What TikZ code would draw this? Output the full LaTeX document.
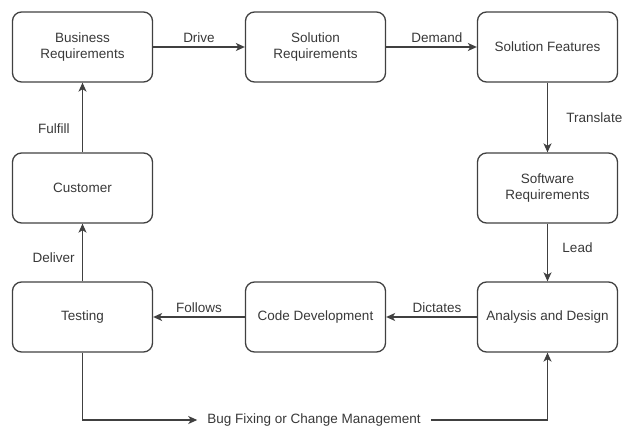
\documentclass[tikz,border=0pt]{standalone}
\usepackage{fontspec}
\setmainfont{Liberation Sans}
\usetikzlibrary{arrows.meta}

\begin{document}
\begin{tikzpicture}[x=1pt, y=-1pt,
  every node/.style={font=\fontsize{13.5}{16.5}\selectfont, text=black!78},
  box/.style={draw=black!75, line width=1.3pt, rounded corners=9pt,
    minimum width=140pt, minimum height=70pt, align=center, inner sep=2pt},
  arr/.style={draw=black!75, line width=1.3pt,
    -{Stealth[length=9pt, width=8pt, inset=2.5pt]}}]
  \useasboundingbox (0,0) rectangle (629,428);

  \node[box] (busreq) at (82.5,47) {Business\\Requirements};
  \node[box] (solreq) at (315.5,47) {Solution\\Requirements};
  \node[box] (solfeat) at (547.5,47) {Solution Features};
  \node[box] (customer) at (82.5,188) {Customer};
  \node[box] (swreq) at (547.5,188) {Software\\Requirements};
  \node[box] (testing) at (82.5,317) {Testing};
  \node[box] (codedev) at (315.5,317) {Code Development};
  \node[box] (analysis) at (547.5,317) {Analysis and Design};
  \node[inner xsep=10pt] (bugfix) at (314,420) {Bug Fixing or Change Management};

  \draw[arr] (busreq) -- node[above] {Drive} (solreq);
  \draw[arr] (solreq) -- node[above, pos=0.56] {Demand} (solfeat);
  \draw[arr] (solfeat) -- node[right=15pt] {Translate} (swreq);
  \draw[arr] (swreq) -- node[right=11pt, pos=0.41] {Lead} (analysis);
  \draw[arr] (analysis) -- node[above, pos=0.44] {Dictates} (codedev);
  \draw[arr] (codedev) -- node[above] {Follows} (testing);
  \draw[arr] (testing) -- node[left=4pt, pos=0.41] {Deliver} (customer);
  \draw[arr] (customer) -- node[left=9pt, pos=0.34] {Fulfill} (busreq);

  % loop back from testing
  \draw[arr] (testing.south) |- (bugfix.west);
  \draw[arr] (bugfix.east) -| (analysis.south);
\end{tikzpicture}
\end{document}
